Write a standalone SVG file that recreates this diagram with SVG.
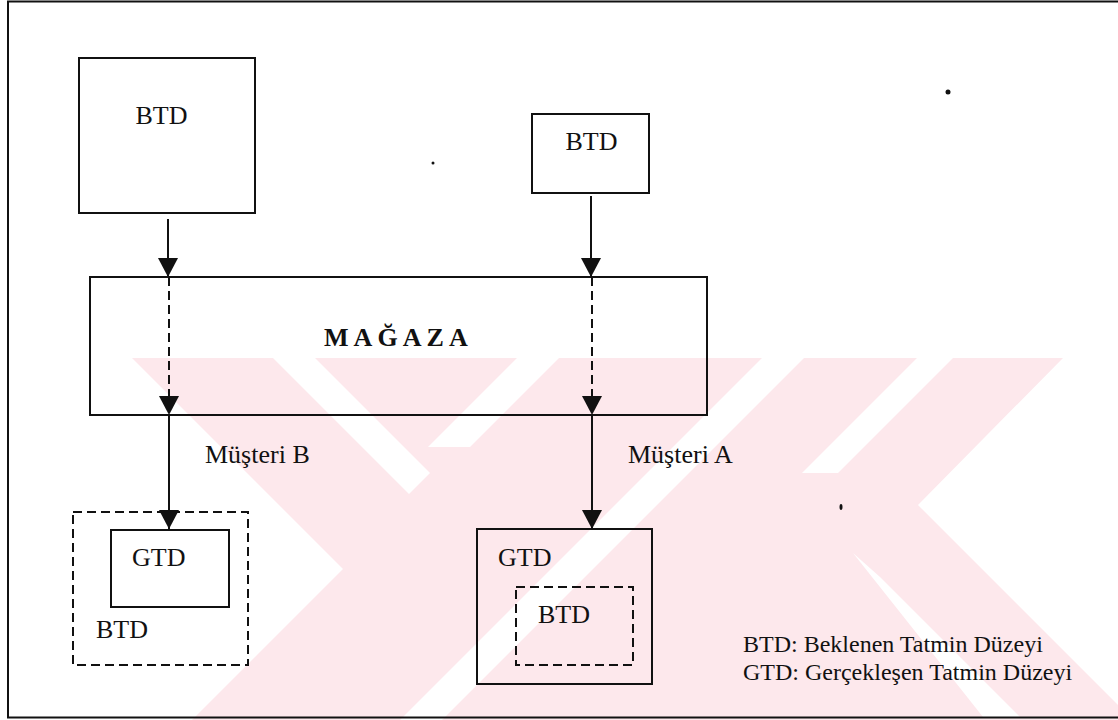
<svg xmlns="http://www.w3.org/2000/svg" width="1118" height="720" viewBox="0 0 1118 720">
<style>
.box{fill:none;stroke:#111;stroke-width:2}
.dash{fill:none;stroke:#111;stroke-width:2;stroke-dasharray:9 5}
.ln{fill:none;stroke:#111;stroke-width:2}
.lnd{fill:none;stroke:#111;stroke-width:2;stroke-dasharray:9 5}
.t{font-family:"Liberation Serif","Times New Roman",serif;font-size:26px;fill:#111}
.tb{font-family:"Liberation Serif","Times New Roman",serif;font-size:26px;font-weight:bold;fill:#111}
.lg{font-family:"Liberation Serif","Times New Roman",serif;font-size:24px;fill:#111}
.wm{fill:#fde8ec}
.wg{fill:#ffffff}
</style>
<defs>
<marker id="ah" viewBox="0 0 19 20" refX="19" refY="10" markerWidth="19" markerHeight="20" markerUnits="userSpaceOnUse" orient="auto">
<path d="M0,0 L19,10 L0,20 Z" fill="#111"/>
</marker>
</defs>
<rect x="0" y="0" width="1118" height="720" fill="#ffffff"/>
<g id="watermark">
<polygon class="wm" points="132,358 1063,358 918,505 1118,705 1118,720 192,720 343,569"/>
<polygon class="wg" points="273,358 315,358 430,473 409,494"/>
<polygon class="wg" points="517,358 559,358 470,447 428,447"/>
<polygon class="wg" points="762,358 804,358 442,720 400,720"/>
<polygon class="wg" points="917,358 953,358 838,473 802,473"/>
<polygon class="wg" points="853,553 880,577 1020,717 983,717"/>
</g>
<rect id="frame" x="8" y="1.5" width="1120" height="716" class="box"/>
<g id="connectors">
<path class="ln" d="M168,219 V277" marker-end="url(#ah)"/>
<path class="lnd" d="M169,277 V415" marker-end="url(#ah)"/>
<path class="ln" d="M169,415 V529" marker-end="url(#ah)"/>
<path class="ln" d="M591,196 V277" marker-end="url(#ah)"/>
<path class="lnd" d="M592,277 V415" marker-end="url(#ah)"/>
<path class="ln" d="M592,415 V529" marker-end="url(#ah)"/>
<text class="t" x="205" y="463">Müşteri B</text>
<text class="t" x="628" y="463">Müşteri A</text>
</g>
<g id="btd-b">
<rect class="box" x="79" y="58" width="176" height="155"/>
<text class="t" x="161.5" y="124" text-anchor="middle">BTD</text>
</g>
<g id="btd-a">
<rect class="box" x="532" y="114" width="117" height="79"/>
<text class="t" x="591.5" y="150" text-anchor="middle">BTD</text>
</g>
<g id="magaza">
<rect class="box" x="90" y="277" width="617" height="138"/>
<text class="tb" x="324" y="346">M A Ğ A Z A</text>
</g>
<g id="result-b">
<rect class="dash" x="73" y="512" width="175" height="153"/>
<rect class="box" x="111" y="530" width="118" height="77"/>
<text class="t" x="132" y="566">GTD</text>
<text class="t" x="96" y="638">BTD</text>
</g>
<g id="result-a">
<rect class="box" x="477" y="529" width="175" height="155"/>
<text class="t" x="498" y="566">GTD</text>
<rect class="dash" x="516" y="587" width="117" height="78"/>
<text class="t" x="538" y="623">BTD</text>
</g>
<g id="legend">
<text class="lg" x="743" y="652">BTD: Beklenen Tatmin Düzeyi</text>
<text class="lg" x="743" y="680">GTD: Gerçekleşen Tatmin Düzeyi</text>
</g>
<g id="specks" fill="#111">
<circle cx="433" cy="163" r="1.5"/>
<circle cx="948" cy="92" r="2.5"/>
<ellipse cx="841" cy="507" rx="1.5" ry="3"/>
</g>
</svg>
